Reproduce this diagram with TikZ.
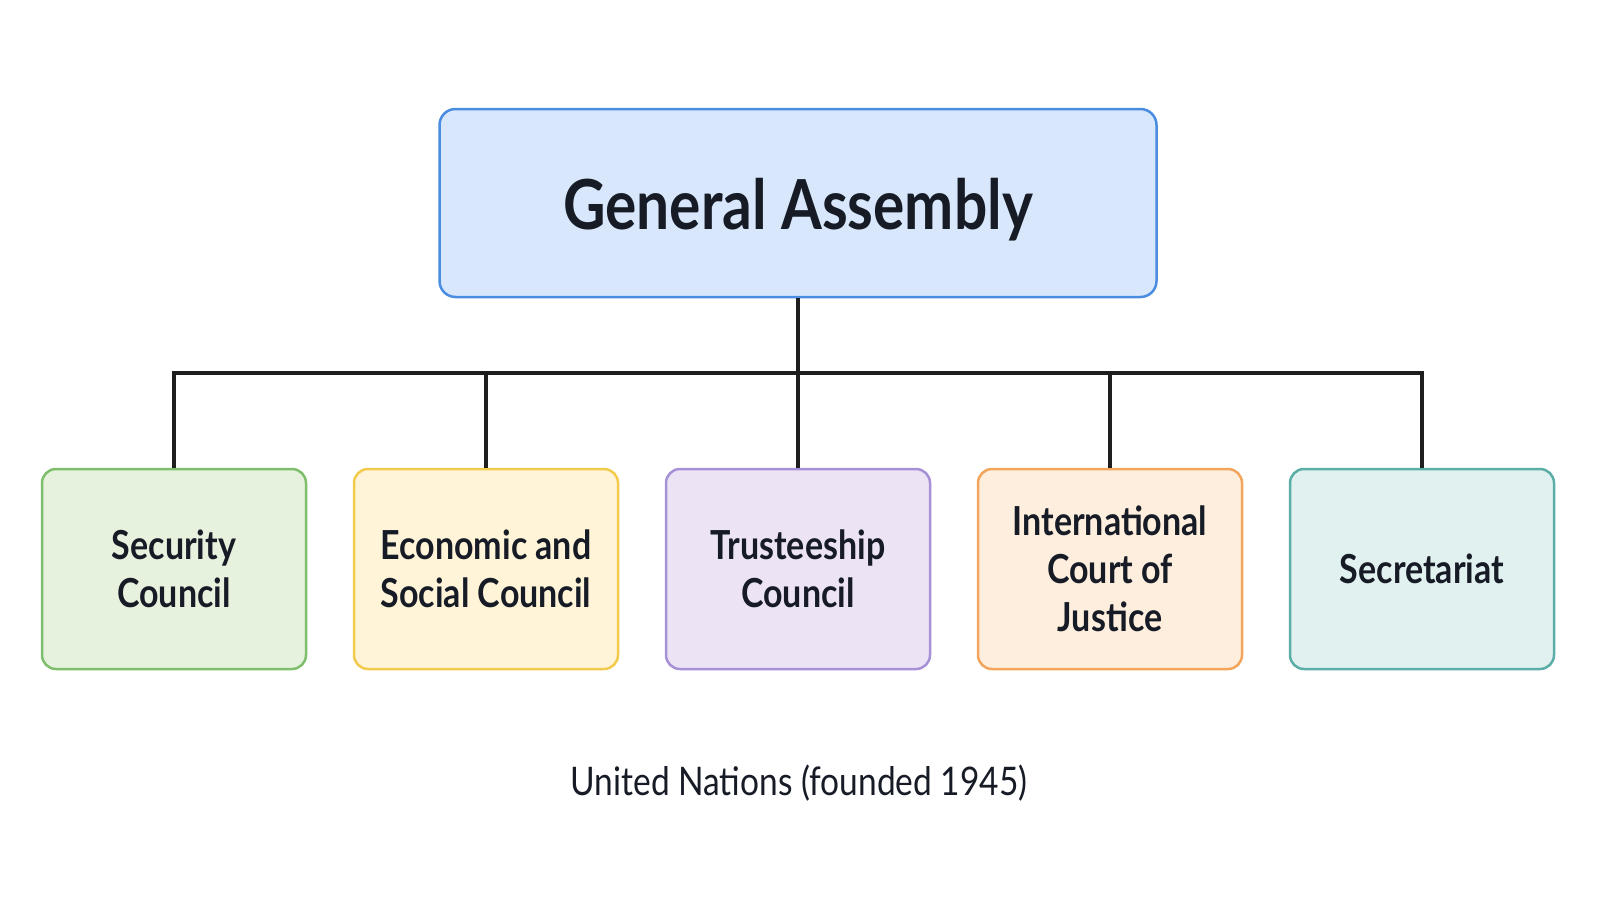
\documentclass[tikz,border=0pt]{standalone}
\usepackage{fontspec}
\setmainfont{Lato}[FakeStretch=0.85]
\definecolor{ink}{HTML}{161B26}
\definecolor{lnk}{HTML}{1E1E1E}
\definecolor{gaF}{HTML}{D8E7FB}\definecolor{gaD}{HTML}{4A8CE0}
\definecolor{scF}{HTML}{E6F2DD}\definecolor{scD}{HTML}{7EBE6C}
\definecolor{ecF}{HTML}{FFF4D8}\definecolor{ecD}{HTML}{F2CB4C}
\definecolor{trF}{HTML}{ECE4F5}\definecolor{trD}{HTML}{A690D6}
\definecolor{icF}{HTML}{FEEEDD}\definecolor{icD}{HTML}{F4A55C}
\definecolor{seF}{HTML}{E1F1EF}\definecolor{seD}{HTML}{5BAEA8}
\begin{document}
\begin{tikzpicture}[x=0.5pt,y=-0.5pt,
  organ/.style={draw=#1D,fill=#1F,line width=1.25pt,rounded corners=7pt,
    minimum width=132pt,minimum height=100pt,align=center,text=ink,
    font=\bfseries\fontsize{20}{24}\selectfont,inner sep=0pt},
  link/.style={draw=lnk,line width=1.6pt}]
\useasboundingbox[fill=white] (0,0) rectangle (1600,900);
\node[draw=gaD,fill=gaF,line width=1.25pt,rounded corners=8pt,
  minimum width=358.5pt,minimum height=94pt] (ga) at (798,203) {};
\node[text=ink,font=\bfseries\fontsize{34.5}{40}\selectfont] (gatext) at (798,210) {General Assembly};
\node[organ=sc] (c1) at (174,569) {Security\\Council};
\node[organ=ec] (c2) at (486,569) {Economic and\\Social Council};
\node[organ=tr] (c3) at (798,569) {Trusteeship\\Council};
\node[organ=ic,text depth=0pt] (c4) at (1110,569) {International\\Court of\\Justice};
\node[organ=se] (c5) at (1422,569) {Secretariat};
\coordinate (bus) at (798,373);
\draw[link] (ga.south) -- (bus);
\draw[link] (c1.north) |- (bus) -| (c5.north);
\draw[link] (c2.north) -- (c2.north |- bus);
\draw[link] (c3.north) -- (bus);
\draw[link] (c4.north) -- (c4.north |- bus);
\node[text=ink,font=\fontsize{19.7}{24}\selectfont] (cap) at (799,783) {United Nations (founded 1945)};
\end{tikzpicture}
\end{document}
